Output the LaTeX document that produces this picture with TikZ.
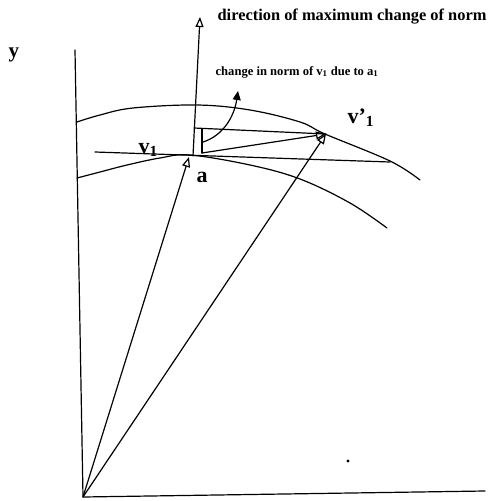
\documentclass[tikz,border=0pt]{standalone}
\usepackage{fontspec}
\setmainfont{Liberation Serif}
\usetikzlibrary{arrows.meta}
\begin{document}
\begin{tikzpicture}[x=1pt,y=-1pt,line width=1.2pt,line cap=round,line join=round,
  openarrow/.style={-{Triangle[open,length=10pt,width=8pt]}},
  fillarrow/.style={-{Triangle[length=9pt,width=8pt]}},
  lbl/.style={inner sep=0pt,font=\bfseries},
  big/.style={inner sep=0pt,font=\fontsize{22}{24}\selectfont\bfseries}]
\useasboundingbox (0,0) rectangle (498,501);
% key points
\coordinate (O) at (83,497);
\coordinate (Ytop) at (75,50);
\coordinate (Xend) at (485,491);
\coordinate (A) at (189,157);
\coordinate (T) at (326,134);
\coordinate (Dbase) at (193,156);
\coordinate (Dtip) at (200,17);
\coordinate (V1s) at (95,152);
\coordinate (V1e) at (390,162);
\coordinate (Btop) at (194,128);
\coordinate (Bar1) at (202,129);
\coordinate (Bar2) at (202,153);
\coordinate (Cs) at (203,142);
\coordinate (Ce) at (238,91);
% axes
\draw (Ytop) -- (O) -- (Xend);
% level curves
\draw plot[smooth,tension=0.6] coordinates {(77,122) (100,115) (133,108) (197,105) (250,110) (300,122) (325,134) (390,161) (420,180)};
\draw plot[smooth,tension=0.6] coordinates {(77,178) (100,172) (127,165) (160,158) (190,155) (250,165) (300,179) (350,203) (387,228)};
% vectors
\draw[openarrow] (O) -- (A);
\draw[openarrow] (O) -- (T);
\draw[openarrow] (Dbase) -- (Dtip);
\draw (V1s) -- (V1e);
\draw (Btop) -- (T);
\draw (Bar1) -- (Bar2);
\draw[openarrow] (Bar2) -- (T);
\draw[fillarrow] (Cs) .. controls (222,136) and (234,118) .. (Ce);
\fill (348,461) circle (1.6);
% labels
\node[lbl,font=\fontsize{21}{23}\selectfont\bfseries] (ylab) at (14,55) {y};
\node[lbl,anchor=west,font=\fontsize{16.4}{18}\selectfont\bfseries] (dirlab) at (217,17) {direction of maximum change of norm};
\node[lbl,anchor=west,font=\fontsize{12.6}{14}\selectfont\bfseries] (chlab) at (215,72) {change in norm of v\textsubscript{1} due to a\textsubscript{1}};
\node[big,anchor=base west] (v1lab) at (138,153) {v\textsubscript{1}};
\node[big,anchor=base west] (alab) at (196,182) {a};
\node[big,anchor=base west] (v1plab) at (347,123) {v’\textsubscript{1}};
\end{tikzpicture}
\end{document}
